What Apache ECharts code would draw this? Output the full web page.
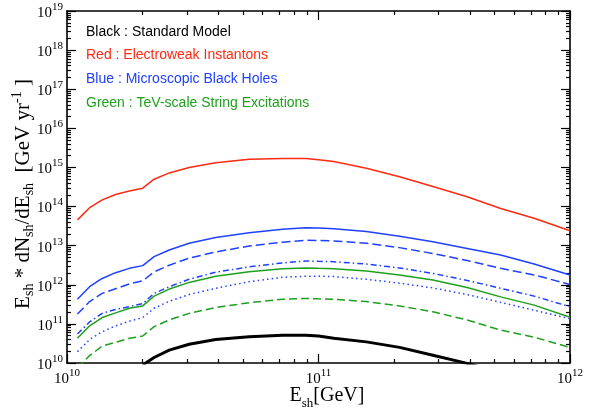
<!DOCTYPE html>
<html><head><meta charset="utf-8">
<script src="https://cdn.jsdelivr.net/npm/echarts@6/dist/echarts.min.js"></script>
<style>html,body{margin:0;padding:0;background:#fff}#c{width:590px;height:413px}</style>
</head><body><div id="c"></div>
<script>
// Shower energies E_sh [GeV]
const energies = [1.1e10, 1.23e10, 1.38e10, 1.56e10, 1.77e10, 2.0e10, 2.22e10, 2.55e10, 3.06e10, 3.9e10, 5.3e10, 7.2e10, 8.9e10, 1.0e11, 1.15e11, 1.55e11, 2.1e11, 2.85e11, 3.9e11, 5.3e11, 7.2e11, 1.0e12];

// E_sh * dN_sh/dE_sh [GeV yr^-1]
const standardModel = [null, null, null, null, null, 8.9e9, 1.38e10, 2.14e10, 3.02e10, 3.98e10, 4.68e10, 5.13e10, 5.13e10, 4.90e10, 4.27e10, 3.47e10, 2.51e10, 1.58e10, 9.8e9, 5.6e9, null, null];
const electroweak = [4.57e13, 9.33e13, 1.48e14, 2.04e14, 2.51e14, 2.95e14, 5.01e14, 7.24e14, 1.0e15, 1.32e15, 1.62e15, 1.70e15, 1.70e15, 1.58e15, 1.41e15, 9.55e14, 5.75e14, 3.24e14, 1.78e14, 8.91e13, 5.01e13, 2.40e13];
const blackHolesSolid = [4.27e11, 8.91e11, 1.45e12, 2.04e12, 2.63e12, 3.09e12, 5.25e12, 7.76e12, 1.15e13, 1.62e13, 2.14e13, 2.63e13, 2.88e13, 2.82e13, 2.69e13, 2.29e13, 1.74e13, 1.26e13, 8.51e12, 5.75e12, 3.39e12, 1.78e12];
const blackHolesDashed = [1.78e11, 3.72e11, 6.03e11, 7.94e11, 1.05e12, 1.26e12, 2.14e12, 3.16e12, 4.79e12, 6.92e12, 9.77e12, 1.23e13, 1.38e13, 1.35e13, 1.32e13, 1.15e13, 8.91e12, 6.31e12, 4.17e12, 2.63e12, 1.78e12, 1.02e12];
const blackHolesDashDot = [5.50e10, 1.12e11, 1.86e11, 2.34e11, 2.75e11, 3.31e11, 6.03e11, 8.91e11, 1.38e12, 2.09e12, 2.88e12, 3.63e12, 4.07e12, 3.98e12, 3.89e12, 3.39e12, 2.69e12, 1.95e12, 1.29e12, 8.13e11, 5.13e11, 2.75e11];
const blackHolesDotted = [1.95e10, 3.98e10, 6.31e10, 8.91e10, 1.17e11, 1.45e11, 2.51e11, 3.80e11, 5.62e11, 8.13e11, 1.20e12, 1.55e12, 1.66e12, 1.66e12, 1.62e12, 1.38e12, 1.10e12, 8.32e11, 5.62e11, 3.55e11, 2.24e11, 1.35e11];
const stringsSolid = [4.27e10, 8.91e10, 1.45e11, 1.91e11, 2.51e11, 2.88e11, 5.13e11, 7.76e11, 1.15e12, 1.66e12, 2.14e12, 2.57e12, 2.69e12, 2.63e12, 2.57e12, 2.24e12, 1.78e12, 1.32e12, 8.51e11, 4.90e11, 3.02e11, 1.48e11];
const stringsDashed = [7.6e9, 1.55e10, 2.69e10, 3.39e10, 4.27e10, 4.90e10, 8.51e10, 1.26e11, 1.86e11, 2.63e11, 3.47e11, 4.27e11, 4.47e11, 4.37e11, 4.27e11, 3.72e11, 2.88e11, 2.04e11, 1.26e11, 6.92e10, 4.57e10, 2.51e10];

// Tick positions
const xMajorTicks = [1e10, 1e11, 1e12];
const yMajorTicks = [1e10, 1e11, 1e12, 1e13, 1e14, 1e15, 1e16, 1e17, 1e18, 1e19];
const minorMultipliers = [2, 3, 4, 5, 6, 7, 8, 9];
const xMinorTicks = [];
[1e10, 1e11].forEach(d => minorMultipliers.forEach(k => xMinorTicks.push(k * d)));
const yMinorTicks = [];
yMajorTicks.slice(0, -1).forEach(d => minorMultipliers.forEach(k => yMinorTicks.push(k * d)));

const legendLines = [
  ['Black : Standard Model', '#000000'],
  ['Red : Electroweak Instantons', '#ff2a12'],
  ['Blue : Microscopic Black Holes', '#2040ff'],
  ['Green : TeV-scale String Excitations', '#1ea01e']
];

const RED = '#ff2a12', BLUE = '#2040ff', GREEN = '#1ea01e';
const serif = 'Liberation Serif';

function pairs(vals) {
  const out = [];
  vals.forEach((v, i) => { if (v !== null) out.push([energies[i], v]); });
  return out;
}
function expLabel(v) {
  const n = Math.round(Math.log10(v));
  return '{b|10}{s|' + n + '}';
}
const labelRich = {
  b: { fontFamily: serif, fontSize: 15, color: '#000', lineHeight: 19, verticalAlign: 'bottom' },
  s: { fontFamily: serif, fontSize: 11, color: '#000', lineHeight: 11, verticalAlign: 'top' }
};

function axis(min, max, pos, ticks, len, major, labelMargin) {
  return {
    type: 'log', logBase: 10, min: min, max: max, position: pos, gridIndex: 0,
    splitNumber: 9,
    axisLine: { show: major, onZero: false, lineStyle: { color: '#000', width: 1.6 } },
    axisTick: { show: true, inside: true, length: len, customValues: ticks, lineStyle: { color: '#000', width: 1.2 } },
    axisLabel: { show: labelMargin !== null, customValues: ticks, formatter: expLabel, rich: labelRich, margin: labelMargin || 0 },
    splitLine: { show: false },
    minorTick: { show: false }
  };
}

const chart = echarts.init(document.getElementById('c'), null, { renderer: 'canvas' });

function line(vals, color, width, dash, z) {
  return {
    type: 'line', xAxisIndex: 0, yAxisIndex: 0, data: pairs(vals), symbol: 'none',
    clip: true, z: z || 2,
    lineStyle: { color: color, width: width, type: dash || 'solid' }
  };
}

chart.setOption({
  animation: false,
  backgroundColor: '#fff',
  grid: { left: 67, right: 20, top: 11, bottom: 50, containLabel: false },
  xAxis: [
    axis(1e10, 1e12, 'bottom', xMajorTicks, 9, true, 5),
    axis(1e10, 1e12, 'bottom', xMinorTicks, 4, false, null),
    axis(1e10, 1e12, 'top', xMajorTicks, 9, true, null),
    axis(1e10, 1e12, 'top', xMinorTicks, 4, false, null)
  ],
  yAxis: [
    axis(1e10, 1e19, 'left', yMajorTicks, 9, true, 4),
    axis(1e10, 1e19, 'left', yMinorTicks, 4, false, null),
    axis(1e10, 1e19, 'right', yMajorTicks, 9, true, null),
    axis(1e10, 1e19, 'right', yMinorTicks, 4, false, null)
  ],
  series: [
    line(electroweak, RED, 1.5),
    line(blackHolesSolid, BLUE, 1.5),
    line(blackHolesDashed, BLUE, 1.5, [9, 4]),
    line(blackHolesDashDot, BLUE, 1.5, [6, 3, 1.5, 3]),
    line(stringsSolid, GREEN, 1.5),
    line(blackHolesDotted, BLUE, 1.5, [1.5, 3.2]),
    line(stringsDashed, GREEN, 1.5, [8, 4]),
    line(standardModel, '#000', 3, null, 3)
  ],
  graphic: [
    ...legendLines.map((l, i) => ({
      type: 'text', left: 86, top: [25, 48, 72, 96][i],
      style: { text: l[0], fill: l[1], font: '14px "Liberation Sans", Arial, sans-serif' }
    })),
    {
      type: 'text', x: 327, y: 398,
      style: {
        text: '{e|E}{sub|sh}{e|[GeV]}', align: 'center', verticalAlign: 'middle',
        rich: {
          e: { fontFamily: serif, fontSize: 20, color: '#000', lineHeight: 24, verticalAlign: 'top' },
          sub: { fontFamily: serif, fontSize: 13, color: '#000', lineHeight: 24, verticalAlign: 'bottom' }
        }
      }
    },
    {
      type: 'text', x: 23, y: 194, rotation: Math.PI / 2,
      style: {
        text: '{e|E}{sub|sh}{e| * dN}{sub|sh}{e|/dE}{sub|sh}{e|  [GeV yr}{sup|-1}{e| ]}',
        align: 'center', verticalAlign: 'middle',
        rich: {
          e: { fontFamily: serif, fontSize: 21, color: '#000', lineHeight: 26, verticalAlign: 'middle' },
          sub: { fontFamily: serif, fontSize: 14, color: '#000', lineHeight: 26, verticalAlign: 'bottom' },
          sup: { fontFamily: serif, fontSize: 14, color: '#000', lineHeight: 26, verticalAlign: 'top' }
        }
      }
    }
  ]
});
</script>
</body></html>
